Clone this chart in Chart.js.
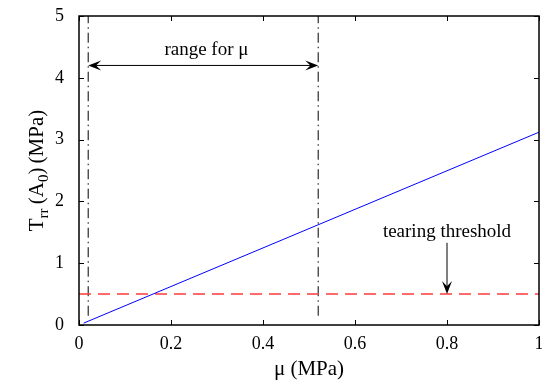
<!DOCTYPE html>
<html>
<head>
<meta charset="utf-8">
<script src="https://cdn.jsdelivr.net/npm/chart.js@4"></script>
<style>
  html, body { margin: 0; padding: 0; background: #fff; }
  #wrap { width: 542px; height: 386px; }
</style>
</head>
<body>
<div id="wrap"><canvas id="chart" width="542" height="386"></canvas></div>
<script>
// data
const muLine = [0.01, 1];
const trrLine = [0.03, 3.12];
const tearingThreshold = 0.5;
const thresholdX = [0, 1];
const muRange = [0.02, 0.52];
const rangeLineY = [0.15, 5];
const rangeArrowY = 4.2;
const xTicks = [0, 0.2, 0.4, 0.6, 0.8, 1];
const yTicks = [0, 1, 2, 3, 4, 5];

const serif = "'Liberation Serif', 'Times New Roman', serif";

function pts(xs, ys) {
  return xs.map((x, i) => ({ x: x, y: ys[i] }));
}

function arrowHead(ctx, x, y, angle) {
  const len = 13, wid = 5;
  ctx.save();
  ctx.translate(x, y);
  ctx.rotate(angle);
  ctx.beginPath();
  ctx.moveTo(0, 0);
  ctx.lineTo(-len, -wid);
  ctx.lineTo(-len * 0.6, 0);
  ctx.lineTo(-len, wid);
  ctx.closePath();
  ctx.fill();
  ctx.restore();
}

const annotations = {
  id: 'annotations',
  afterDatasetsDraw(chart) {
    const ctx = chart.ctx;
    const xs = chart.scales.x, ys = chart.scales.y;
    const area = chart.chartArea;
    ctx.save();
    ctx.strokeStyle = '#000';
    ctx.fillStyle = '#000';
    ctx.lineWidth = 1;

    // range arrow
    const ax1 = xs.getPixelForValue(muRange[0]);
    const ax2 = xs.getPixelForValue(muRange[1]);
    const ay = ys.getPixelForValue(rangeArrowY);
    ctx.beginPath();
    ctx.moveTo(ax1 + 6, ay);
    ctx.lineTo(ax2 - 6, ay);
    ctx.stroke();
    arrowHead(ctx, ax1, ay, Math.PI);
    arrowHead(ctx, ax2, ay, 0);

    ctx.font = '19px ' + serif;
    ctx.textAlign = 'center';
    ctx.textBaseline = 'middle';
    ctx.fillText('range for \u03bc', xs.getPixelForValue(0.277), ys.getPixelForValue(4.45));

    // tearing threshold arrow
    const tx = xs.getPixelForValue(0.8);
    const ty1 = ys.getPixelForValue(1.33);
    const ty2 = ys.getPixelForValue(tearingThreshold);
    ctx.beginPath();
    ctx.moveTo(tx, ty1);
    ctx.lineTo(tx, ty2 - 6);
    ctx.stroke();
    arrowHead(ctx, tx, ty2, Math.PI / 2);
    ctx.fillText('tearing threshold', xs.getPixelForValue(0.8), ys.getPixelForValue(1.5));

    // box and inward ticks
    ctx.lineWidth = 1.5;
    ctx.strokeRect(area.left, area.top, area.right - area.left, area.bottom - area.top);
    ctx.lineWidth = 1;
    ctx.beginPath();
    xTicks.forEach(v => {
      const p = Math.round(xs.getPixelForValue(v)) + 0.5;
      ctx.moveTo(p, area.bottom); ctx.lineTo(p, area.bottom - 5);
      ctx.moveTo(p, area.top); ctx.lineTo(p, area.top + 5);
    });
    yTicks.forEach(v => {
      const p = Math.round(ys.getPixelForValue(v)) + 0.5;
      ctx.moveTo(area.left, p); ctx.lineTo(area.left + 5, p);
      ctx.moveTo(area.right, p); ctx.lineTo(area.right - 5, p);
    });
    ctx.stroke();

    // y axis title with subscripts
    ctx.translate(0, (area.top + area.bottom) / 2);
    ctx.rotate(-Math.PI / 2);
    ctx.textAlign = 'left';
    ctx.textBaseline = 'alphabetic';
    const parts = [
      ['T', 0], ['rr', 1], ['\u2009(A', 0], ['0', 1], [')\u2009(MPa)', 0]
    ];
    const fontFor = p => (p[1] ? '15px ' : '21px ') + serif;
    let total = 0;
    parts.forEach(p => {
      ctx.font = fontFor(p);
      total += ctx.measureText(p[0]).width;
    });
    let cx = -total / 2;
    parts.forEach(p => {
      ctx.font = fontFor(p);
      ctx.fillText(p[0], cx, p[1] ? 48 : 43);
      cx += ctx.measureText(p[0]).width;
    });
    ctx.restore();
  }
};

new Chart(document.getElementById('chart'), {
  type: 'scatter',
  data: {
    datasets: [
      {
        data: pts(muLine, trrLine),
        showLine: true, borderColor: '#0000ff', borderWidth: 1,
        pointRadius: 0
      },
      {
        data: pts(thresholdX, [tearingThreshold, tearingThreshold]),
        showLine: true, borderColor: '#ff3b3b', borderWidth: 1.5,
        borderDash: [12, 7], pointRadius: 0
      },
      {
        data: pts([muRange[0], muRange[0]], rangeLineY),
        showLine: true, borderColor: '#000', borderWidth: 1,
        borderDash: [10, 4, 1.5, 4], pointRadius: 0
      },
      {
        data: pts([muRange[1], muRange[1]], rangeLineY),
        showLine: true, borderColor: '#000', borderWidth: 1,
        borderDash: [10, 4, 1.5, 4], pointRadius: 0
      }
    ]
  },
  options: {
    responsive: false,
    animation: false,
    layout: { padding: { left: 0, right: 3, top: 16, bottom: 0 } },
    plugins: { legend: { display: false }, tooltip: { enabled: false } },
    scales: {
      x: {
        type: 'linear', min: 0, max: 1,
        afterBuildTicks: s => { s.ticks = xTicks.map(v => ({ value: v })); },
        afterFit: s => { s.height = 61; s.paddingLeft = 0; s.paddingRight = 0; },
        grid: { display: false },
        border: { display: false },
        ticks: {
          padding: 0, color: '#000', maxRotation: 0,
          font: { family: serif, size: 18 },
          callback: v => String(v)
        },
        title: {
          display: true, text: '\u03bc (MPa)', color: '#000',
          font: { family: serif, size: 21 },
          padding: { top: 0, bottom: 4 }
        }
      },
      y: {
        type: 'linear', min: 0, max: 5,
        afterBuildTicks: s => { s.ticks = yTicks.map(v => ({ value: v })); },
        afterFit: s => { s.width = 79; s.paddingTop = 0; s.paddingBottom = 0; },
        grid: { display: false },
        border: { display: false },
        ticks: {
          padding: 7, color: '#000',
          font: { family: serif, size: 18 },
          callback: v => String(v)
        }
      }
    }
  },
  plugins: [annotations]
});
</script>
</body>
</html>
